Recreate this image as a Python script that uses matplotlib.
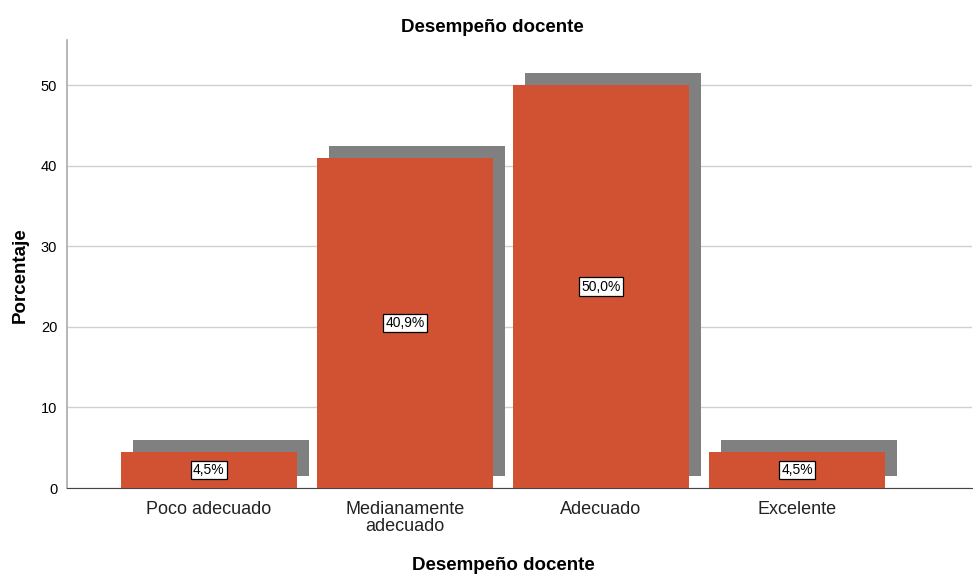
import matplotlib.pyplot as plt
from matplotlib.patches import Rectangle

categorias = ["Poco adecuado", "Medianamente\nadecuado", "Adecuado", "Excelente"]
porcentajes = [4.5, 40.9, 50.0, 4.5]
etiquetas = ["4,5%", "40,9%", "50,0%", "4,5%"]

plt.rcParams['font.family'] = ['Liberation Sans', 'DejaVu Sans']

fig = plt.figure(figsize=(9.73, 5.74), dpi=100)
ax = fig.add_axes([67/973, 1-488/574, (972-67)/973, (488-40)/574])

ancho = 0.898
dx, dy = 0.061, 1.49
rojo = "#d05232"

for i, v in enumerate(porcentajes):
    # sombra
    ax.add_patch(Rectangle((i - ancho/2 + dx, dy), ancho, v, color="#808080", zorder=2, lw=0))
    ax.add_patch(Rectangle((i - ancho/2, 0), ancho, v, color=rojo, zorder=3, lw=0))
    ax.text(i, v/2, etiquetas[i], ha="center", va="center", fontsize=10, zorder=4,
            bbox=dict(boxstyle="square,pad=0.15", fc="white", ec="black", lw=0.9))

ax.set_xlim(-0.724, 3.893)
ax.set_ylim(0, 55.6)
ax.set_yticks([0, 10, 20, 30, 40, 50])
ax.set_xticks(range(len(categorias)))
ax.set_xticklabels(categorias, fontsize=13, color="#222222", linespacing=1.05)
ax.tick_params(axis="y", length=0, labelsize=10.5, pad=7)
ax.tick_params(axis="x", length=0, pad=9)
ax.yaxis.grid(True, color="#d0d0d0", lw=1, zorder=0)
ax.set_axisbelow(True)

for s in ["top", "right"]:
    ax.spines[s].set_visible(False)
ax.spines["left"].set_color("#aaaaaa")
ax.spines["left"].set_linewidth(1.2)
ax.spines["bottom"].set_color("#444444")

fig.text(492/973, 1-27/574, "Desempeño docente", fontsize=13.5, fontweight="bold",
         ha="center", va="center")
fig.text(503/973, 1-565/574, "Desempeño docente", fontsize=13.5, fontweight="bold",
         ha="center", va="center")
fig.text(20/973, 1-275/574, "Porcentaje", fontsize=13.5, fontweight="bold",
         ha="center", va="center", rotation=90)

fig.savefig("out.png", dpi=100)
